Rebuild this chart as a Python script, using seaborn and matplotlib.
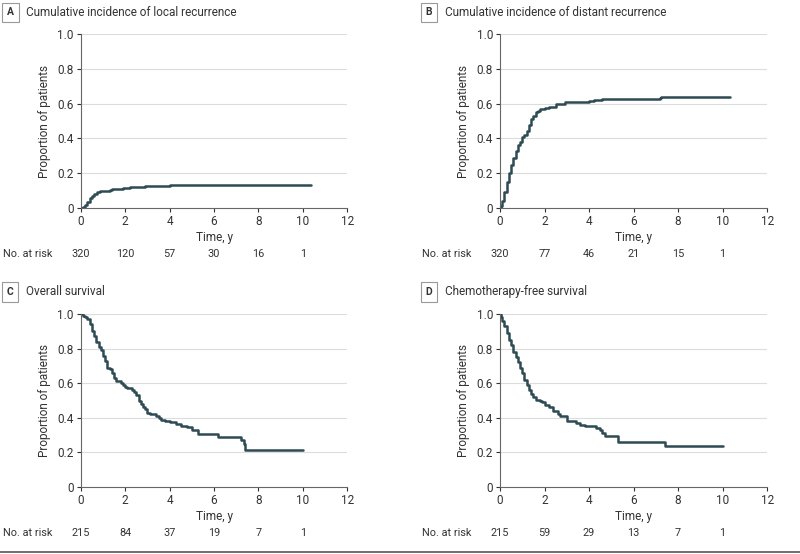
import numpy as np
import pandas as pd
import matplotlib
matplotlib.use("Agg")
import matplotlib.pyplot as plt
import seaborn as sns

# --------------------------------------------------------
# Data (step functions)
# --------------------------------------------------------
local_t = [0, 0.1, 0.2, 0.3, 0.4, 0.5, 0.6, 0.75, 0.85, 1.3, 1.4, 1.9, 2.2, 2.9, 4.0, 10.35]
local_p = [0, 0.005, 0.02, 0.035, 0.06, 0.07, 0.08, 0.09, 0.1, 0.105, 0.11, 0.115, 0.12, 0.125, 0.13, 0.13]

distant_t = [0, 0.05, 0.1, 0.2, 0.3, 0.4, 0.5, 0.6, 0.7, 0.8, 0.9, 1.0, 1.1, 1.2, 1.3, 1.4,
             1.5, 1.6, 1.7, 1.8, 2.0, 2.2, 2.5, 2.8, 2.9, 4.0, 4.2, 4.6, 7.2, 7.25, 10.35]
distant_p = [0, 0.01, 0.04, 0.09, 0.15, 0.2, 0.25, 0.29, 0.33, 0.36, 0.38, 0.41, 0.42, 0.44, 0.48, 0.51,
             0.53, 0.55, 0.56, 0.57, 0.575, 0.58, 0.595, 0.6, 0.61, 0.615, 0.62, 0.625, 0.63, 0.64, 0.64]

os_t = [0, 0.1, 0.2, 0.3, 0.4, 0.5, 0.6, 0.7, 0.8, 0.9, 1.0, 1.1, 1.2, 1.3, 1.4, 1.5, 1.6, 1.8,
        1.9, 2.0, 2.1, 2.3, 2.4, 2.5, 2.6, 2.7, 2.8, 2.9, 3.0, 3.1, 3.4, 3.5, 3.6, 3.8, 4.0, 4.3,
        4.5, 4.8, 5.0, 5.3, 6.2, 7.2, 7.35, 7.4, 10.0]
os_p = [1.0, 0.99, 0.98, 0.97, 0.94, 0.9, 0.87, 0.84, 0.81, 0.79, 0.76, 0.73, 0.69, 0.68, 0.66,
        0.63, 0.61, 0.6, 0.59, 0.58, 0.57, 0.56, 0.55, 0.53, 0.5, 0.48, 0.46, 0.45, 0.43, 0.42,
        0.41, 0.4, 0.39, 0.38, 0.375, 0.365, 0.355, 0.345, 0.33, 0.305, 0.29, 0.27, 0.25, 0.215, 0.215]

cfs_t = [0, 0.05, 0.1, 0.2, 0.3, 0.4, 0.5, 0.6, 0.7, 0.8, 0.9, 1.0, 1.1, 1.2, 1.3, 1.4, 1.5, 1.6,
         1.8, 1.9, 2.0, 2.2, 2.4, 2.6, 2.7, 3.0, 3.4, 3.6, 3.8, 4.3, 4.5, 4.6, 4.7, 5.3, 7.4, 10.0]
cfs_p = [1.0, 0.98, 0.96, 0.93, 0.89, 0.85, 0.82, 0.78, 0.75, 0.72, 0.69, 0.66, 0.62, 0.59, 0.56,
         0.54, 0.52, 0.505, 0.5, 0.49, 0.475, 0.46, 0.44, 0.42, 0.41, 0.38, 0.37, 0.36, 0.35, 0.34,
         0.33, 0.315, 0.295, 0.26, 0.235, 0.235]

risk_times = [0, 2, 4, 6, 8, 10]
risk_local = [320, 120, 57, 30, 16, 1]
risk_distant = [320, 77, 46, 21, 15, 1]
risk_os = [215, 84, 37, 19, 7, 1]
risk_cfs = [215, 59, 29, 13, 7, 1]

letters = ["A", "B", "C", "D"]
titles = ["Cumulative incidence of local recurrence",
          "Cumulative incidence of distant recurrence",
          "Overall survival",
          "Chemotherapy-free survival"]

# --------------------------------------------------------
# Style
# --------------------------------------------------------
sns.set_style("white")
plt.rcParams['font.family'] = ['Roboto', 'DejaVu Sans']
line_color = "#2e4a52"
text_color = "#333333"

fig = plt.figure(figsize=(8, 5.54), dpi=100)

# axes boxes in figure fractions [left, bottom, width, height]
boxes = [[0.101, 0.6245, 0.333, 0.3141],
         [0.625, 0.6245, 0.334, 0.3141],
         [0.101, 0.1209, 0.333, 0.3123],
         [0.625, 0.1209, 0.334, 0.3123]]
panel_left = [0.004, 0.527, 0.004, 0.527]
title_y = [0.978, 0.978, 0.473, 0.473]
risk_y = [0.541, 0.541, 0.038, 0.038]

curves = [(local_t, local_p), (distant_t, distant_p), (os_t, os_p), (cfs_t, cfs_p)]
risks = [risk_local, risk_distant, risk_os, risk_cfs]

for i in range(4):
    ax = fig.add_axes(boxes[i])
    df = pd.DataFrame({"time": curves[i][0], "prop": curves[i][1]})
    sns.lineplot(data=df, x="time", y="prop", ax=ax, drawstyle="steps-post",
                 color=line_color, linewidth=1.8)

    ax.set_xlim(0, 12)
    ax.set_ylim(0, 1.0)
    ax.set_xticks(range(0, 13, 2))
    ax.set_yticks([0, 0.2, 0.4, 0.6, 0.8, 1.0])
    ax.set_yticklabels(["0", "0.2", "0.4", "0.6", "0.8", "1.0"])
    ax.set_xlabel("Time, y", fontsize=8.5, color=text_color, labelpad=2)
    ax.set_ylabel("Proportion of patients", fontsize=8.5, color=text_color, labelpad=5)
    ax.tick_params(axis="both", labelsize=8.5, colors=text_color, length=3, width=0.8,
                   direction="out", pad=2, left=True, bottom=True)
    for y in [0.2, 0.4, 0.6, 0.8, 1.0]:
        ax.axhline(y, color="#dcdcdc", linewidth=0.8, zorder=0)
    for s in ["top", "right"]:
        ax.spines[s].set_visible(False)
    for s in ["left", "bottom"]:
        ax.spines[s].set_color("#666666")
        ax.spines[s].set_linewidth(0.8)

    # panel letter box + title
    fig.text(panel_left[i] + 0.009, title_y[i], letters[i], fontsize=7.5, fontweight="bold",
             color=text_color, ha="center", va="center",
             bbox=dict(boxstyle="square,pad=0.45", fc="white", ec="#999999", lw=0.8))
    fig.text(panel_left[i] + 0.029, title_y[i], titles[i], fontsize=8.5,
             color=text_color, ha="left", va="center")

    # number at risk row
    fig.text(panel_left[i], risk_y[i], "No. at risk", fontsize=7.8, color=text_color,
             ha="left", va="center")
    trans = matplotlib.transforms.blended_transform_factory(ax.transData, fig.transFigure)
    for t, n in zip(risk_times, risks[i]):
        ax.text(t, risk_y[i], str(n), transform=trans, fontsize=7.8, color=text_color,
                ha="center", va="center")

# bottom rule
fig.add_artist(plt.Line2D([0, 1], [0.004, 0.004], color="#555555", linewidth=1.2,
                          transform=fig.transFigure))

fig.savefig("out.png", dpi=100)
